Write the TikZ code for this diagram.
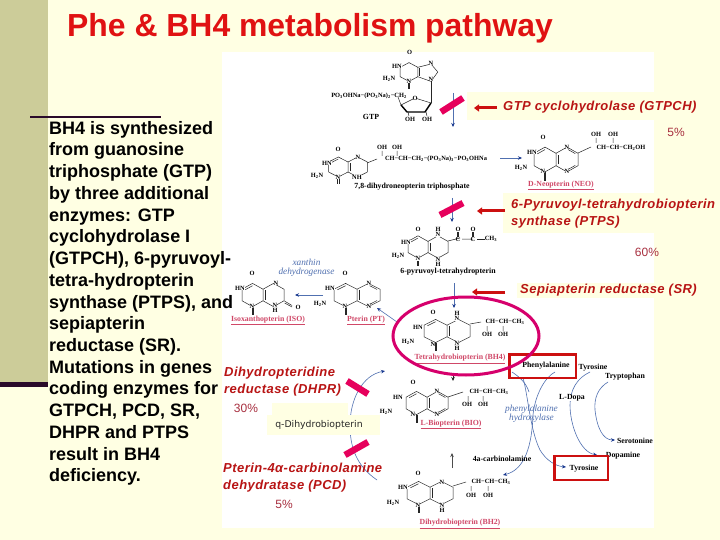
\documentclass[tikz,border=0pt]{standalone}
\usepackage{fontspec}
\setmainfont{Liberation Sans}
\newfontfamily\serifmol{Liberation Serif}
\newfontfamily\dejav{DejaVu Sans}
\newfontfamily\enzfont[LetterSpace=3.5]{Liberation Sans}
\usetikzlibrary{arrows.meta}
\definecolor{pagebg}{HTML}{FFFFE3}
\definecolor{sidebar}{HTML}{CCCC99}
\definecolor{darkbar}{HTML}{2A0A2A}
\definecolor{titlered}{HTML}{E01212}
\definecolor{enzred}{HTML}{B81414}
\definecolor{arrred}{HTML}{CC1010}
\definecolor{pct}{HTML}{A83040}
\definecolor{barpink}{HTML}{E6005C}
\definecolor{ringpink}{HTML}{D6006C}
\definecolor{molpink}{HTML}{D04868}
\definecolor{flowblue}{HTML}{5070B0}
\definecolor{tipblue}{HTML}{1A3A90}
\newcount\atomc
\tikzset{
  mol/.style={font=\serifmol\bfseries\fontsize{6.4}{5.4}\selectfont,inner sep=0pt,fill=white,text=black,align=center},
  molplain/.style={font=\serifmol\bfseries\fontsize{6.4}{6}\selectfont,inner sep=0pt,text=black},
  mollabel/.style={font=\serifmol\bfseries\fontsize{7.8}{8}\selectfont,inner sep=0pt},
  pinklabel/.style={mollabel,text=molpink},
  bond/.style={line width=0.5pt,black!85},
  enzyme/.style={font=\enzfont\bfseries\itshape\fontsize{13}{17}\selectfont,text=enzred,inner sep=0pt,anchor=west,align=left},
  percent/.style={font=\fontsize{12}{12}\selectfont,text=pct,inner sep=0pt},
  blueitalic/.style={font=\serifmol\itshape\fontsize{9.3}{8.7}\selectfont,text=flowblue,inner sep=0pt,align=center},
  redarrow/.style={line width=3pt,arrred,-{Triangle[length=5pt,width=7pt]}},
  pinkbar/.style={line width=6.5pt,barpink},
  flow/.style={line width=0.6pt,flowblue,-{Stealth[length=4pt,width=3.5pt,tipblue]}},
  flowline/.style={line width=0.6pt,flowblue},
  redbox/.style={draw=arrred,line width=2.6pt},
  palebox/.style={fill=pagebg,draw=none}
}
\def\atom(#1)#2{\global\advance\atomc by 1\relax\node[mol] (atom\the\atomc) at (#1) {#2};}
\def\atomp(#1)#2{\global\advance\atomc by 1\relax\node[molplain] (atom\the\atomc) at (#1) {#2};}
\newcommand{\low}[1]{\textsubscript{#1}}
% pterin skeleton: shared bond centred at (#1,#2), half side #3, half width #4, #5=1 aromatic right ring
\newcommand{\pterin}[5]{%
\begin{scope}[shift={(#1,#2)},x=#4pt,y=#3pt]
\draw[bond] (-1,-2)--(0,-1)--(0,1)--(-1,2)--(-2,1)--(-2,-1)--cycle;
\draw[bond] (0.2,-0.8)--(0.2,0.8);
\draw[bond] (-1,1.6)--(-1.7,0.9);
\draw[bond] (-1.06,-2)--(-1.06,-3.4) (-0.94,-2)--(-0.94,-3.4);
\draw[bond] (0,-1)--(1,-2)--(2,-1)--(2,1)--(1,2)--(0,1);
\ifnum#5=1
\draw[bond] (1.1,-1.6)--(1.75,-0.95) (1.75,0.95)--(1.1,1.6);
\fi
\end{scope}}
\begin{document}
\begin{tikzpicture}[x=1pt,y=-1pt]
\useasboundingbox (0,0) rectangle (720,540);
\fill[pagebg] (0,0) rectangle (720,540);
\fill[sidebar] (0,0) rectangle (48,382);
\fill[darkbar] (0,382) rectangle (48,386.5);
\fill[white] (222,52) rectangle (654,528);
\fill[darkbar] (30,116) rectangle (161,118.5);
\node[font=\bfseries\fontsize{31.9}{32}\selectfont,text=titlered,inner sep=0pt,anchor=west] (title) at (67,28) {Phe \& BH4 metabolism pathway};
% pale boxes behind the enzyme names
\fill[palebox] (467,92) rectangle (654,120);
\fill[palebox] (503,193) rectangle (654,233);
\fill[palebox] (517,283) rectangle (654,298);
% GTP
\begin{scope}[shift={(409,72)},x=8pt,y=4.7pt]
\draw[bond] (0,-2)--(1.1,-1)--(1.1,1)--(0,2)--(-1.1,1)--(-1.1,-1)--cycle;
\draw[bond] (1.25,-0.8)--(1.25,0.8);
\draw[bond] (-0.06,-2)--(-0.06,-3.6) (0.06,-2)--(0.06,-3.6);
\draw[bond] (1.1,-1)--(2.75,-2)--(3.6,0)--(2.75,1.7)--(1.1,1);
\end{scope}
\draw[bond] (431,79)--(431,103);
\draw[bond] (398,97)--(401,105);
\draw[bond] (401,105)--(415,98)--(431,103);
\draw[line width=1.4pt] (401,105)--(407,112)--(425,112)--(431,103);
\draw[bond] (408,112)--(409,116) (426,112)--(427,116);
\atom(409.5,52.5){O}
\atom(397,66){HN}
\atom(389,79){H\low{2}N}
\atom(409,81){N}
\atom(431,63){N}
\atom(431,79){N}
\atom(415,98){O}
\atomp(369,96){PO\low{3}OHNa−(PO\low{3}Na)\low{2}−CH\low{2}}
\atom(410,119){OH}
\atom(427,119){OH}
\node[mollabel] (gtp) at (371,117) {GTP};
% 7,8-dihydroneopterin triphosphate
\pterin{348}{167}{5}{9.7}{0}
\draw[bond] (367,163)--(377,159) (382,151)--(382,156) (397,151)--(397,156);
\atom(338,149){O}
\atom(327,163){HN}
\atom(317,176){H\low{2}N}
\atom(338,177){N}
\atom(358,157.5){N}
\atom(357,177){NH}
\atom(382,147){OH}
\atom(397,147){OH}
\atomp(436,159){CH−CH−CH\low{2}−(PO\low{3}Na)\low{3}−PO\low{3}OHNa}
\node[mollabel] (dhnp) at (412,187) {7,8-dihydroneopterin triphosphate};
% D-neopterin
\pterin{556}{159.5}{6.2}{11}{1}
\draw[bond] (578,153)--(591,147) (596,138)--(596,143) (613,138)--(613,143);
\atom(543,137){O}
\atom(532,152){HN}
\atom(521,168){H\low{2}N}
\atom(543,171){N}
\atom(567,147){N}
\atom(567,171){N}
\atom(596,134){OH}
\atom(613,134){OH}
\atomp(621,147.5){CH−CH−CH\low{2}OH}
\node[pinklabel] (neo) at (561,185.5) {\underline{D-Neopterin (NEO)}};
% flow from triphosphate to neopterin
\coordinate (tpEnd) at (500,158);
\coordinate (neoStart) at (522,158);
\draw[flow] (tpEnd)--(neoStart);
% 6-pyruvoyl-tetrahydropterin
\pterin{428}{247}{5.6}{10}{0}
\draw[bond] (448,241)--(460,238) (462,239)--(473,239);
\draw[bond] (457.4,232)--(457.4,237) (458.6,232)--(458.6,237) (472.4,232)--(472.4,237) (473.6,232)--(473.6,237);
\atom(418,229){O}
\atom(406,242){HN}
\atom(398,256){H\low{2}N}
\atom(418,258.5){N}
\atom(438,232){H\\N}
\atom(438,262){N\\H}
\atom(458,229){O}
\atom(473,229){O}
\atomp(458,239){C}
\atomp(473,239){C}
\atom(491,239){CH\low{3}}
\draw[bond] (477,239)--(485,239);
\node[mollabel] (pyr) at (448,271.5) {6-pyruvoyl-tetrahydropterin};
% isoxanthopterin
\pterin{263}{295}{5.8}{10.5}{0}
\draw[bond] (284.4,301)--(292,305.5) (284.6,303)--(292,307);
\atom(252,273){O}
\atom(240,288){HN}
\atom(252,306){N}
\atom(276,283){N}
\atom(298,307){O}
\atom(275,308){N\\H}
\node[pinklabel] (iso) at (268,320.5) {\underline{Isoxanthopterin (ISO)}};
\node[blueitalic] (xan) at (306.5,268) {xanthin\\dehydrogenase};
% pterin
\pterin{357}{295}{5.8}{11.5}{1}
\atom(345,273){O}
\atom(330,288){HN}
\atom(320,304){H\low{2}N}
\atom(345,306){N}
\atom(369,283){N}
\atom(369,306){N}
\node[pinklabel] (pt) at (366,320.5) {\underline{Pterin (PT)}};
\coordinate (ptSrc) at (397,322);
\coordinate (ptEnd) at (377,308);
\draw[flow] (ptSrc)--(ptEnd);
\coordinate (isoSrc) at (323,295);
\coordinate (isoEnd) at (295,295);
\draw[flow] (isoSrc)--(isoEnd);
% tetrahydrobiopterin
\pterin{447}{331}{5.8}{11.5}{0}
\draw[bond] (470,324)--(481,322) (487,326)--(487,331) (503,326)--(503,331);
\atom(433,312){O}
\atom(418,327){HN}
\atom(408,342){H\low{2}N}
\atom(433,344){N}
\atom(457,316){H\\N}
\atom(457,346){N\\H}
\atom(487,334){OH}
\atom(503,334){OH}
\atomp(505,322){CH−CH−CH\low{3}}
\node[pinklabel] (bh4) at (460,359) {\underline{Tetrahydrobiopterin (BH4)}};
\coordinate (pyrDown) at (454,283);
\coordinate (bh4Top) at (454,308);
\draw[flow] (pyrDown)--(bh4Top);
% L-biopterin
\pterin{427}{403}{5.8}{10.5}{1}
\draw[bond] (448,397)--(463,392) (468,396)--(468,401) (483,396)--(483,401);
\atom(413,382){O}
\atom(398,397){HN}
\atom(386,412){H\low{2}N}
\atom(413,414){N}
\atom(437,391){N}
\atom(437,414){N}
\atom(467,404){OH}
\atom(483,404){OH}
\atomp(489,392){CH−CH−CH\low{3}}
\node[pinklabel] (bio) at (451,424.5) {\underline{L-Biopterin (BIO)}};
% dihydrobiopterin
\pterin{430}{493}{5.8}{11.5}{0}
\draw[bond] (453,486)--(466,482) (471,486)--(471,491) (488,486)--(488,491);
\atom(418,473){O}
\atom(403,487){HN}
\atom(393,503){H\low{2}N}
\atom(418,505){N}
\atom(442,482){N}
\atom(442,508){N\\H}
\atom(471,495){OH}
\atom(488,495){OH}
\atomp(491,482){CH−CH−CH\low{3}}
\node[pinklabel] (bh2) at (460,524) {\underline{Dihydrobiopterin (BH2)}};
% arrows down the main column
\coordinate (a1s) at (453,93);
\coordinate (a1e) at (453,127);
\draw[flow] (a1s)--(a1e);
\coordinate (a2s) at (452,198);
\coordinate (a2e) at (452,222);
\draw[flow] (a2s)--(a2e);
\coordinate (a3s) at (452,468);
\coordinate (a3e) at (452,453);
\draw[-{Stealth[length=4pt,width=3.5pt]},line width=0.6pt,black!70] (a3s)--(a3e);
\coordinate (bh4down) at (453,376);
\coordinate (bioTop) at (453,381);
\draw[-{Stealth[length=4pt,width=3.5pt]},line width=0.6pt,black!85] (bh4down)--(bioTop);
% aromatic amino-acid side
\draw[flow] (523,378) .. controls (528,395) and (530,430) .. (540,450) .. controls (546,460) and (555,466) .. (566,467);
\draw[flow] (555,372) .. controls (545,377) and (535,395) .. (533,415) .. controls (532,445) and (525,470) .. (503,475);
\draw[flowline] (512,372) .. controls (518,376) and (526,382) .. (529,392);
\draw[flow] (590,372) .. controls (577,378) and (570,390) .. (570,405) .. controls (570,425) and (580,452) .. (597,455);
\draw[flow] (608,382) .. controls (598,388) and (594,398) .. (595,410) .. controls (597,428) and (603,440) .. (615,440);
\node[blueitalic] (hydrox) at (531.5,414) {phenylalanine\\hydroxylase};
\tikzset{aminolabel/.style={mollabel,text=black}}
\node[aminolabel,fill=white] (ldopa) at (572,398) {L-Dopa};
\node[aminolabel] (phe) at (546,366) {Phenylalanine};
\node[aminolabel] (tyr1) at (593,368) {Tyrosine};
\node[aminolabel] (trp) at (625,377) {Tryptophan};
\node[aminolabel] (ser) at (635,441) {Serotonine};
\node[aminolabel] (dop) at (623,456) {Dopamine};
\node[aminolabel] (tyr2) at (584,469) {Tyrosine};
\node[aminolabel] (carb) at (502,459) {4a-carbinolamine};
\draw[redbox] (509.5,354.5) rectangle (576,378);
\draw[redbox] (554.5,456) rectangle (608,480);
% left cycle
\draw[flow] (377,480) .. controls (355,465) and (350,445) .. (350,425) .. controls (350,400) and (362,375) .. (385,371);
\fill[palebox] (272,403) rectangle (348,415);
\fill[palebox] (267,415) rectangle (380,435);
\node[font=\dejav\fontsize{9.3}{10}\selectfont,inner sep=0pt,text=black!85] (qdh) at (319,425) {q-Dihydrobiopterin};
% pink ring around BH4
\draw[ringpink,line width=3pt] (466,336) ellipse [x radius=73,y radius=39];
% pink bars
\draw[pinkbar] (441,112)--(463,98);
\draw[pinkbar] (440,215)--(463,203);
\draw[pinkbar] (347,381)--(368,394);
\draw[pinkbar] (345,455)--(368,442);
% enzyme names and red arrows
\node[enzyme] (gtpch) at (503,107) {GTP cyclohydrolase (GTPCH)};
\node[enzyme] (ptps) at (511,214) {6-Pyruvoyl-tetrahydrobiopterin\\synthase (PTPS)};
\node[enzyme] (sr) at (520,290) {Sepiapterin reductase (SR)};
\node[enzyme] (dhpr) at (224,382) {Dihydropteridine\\reductase (DHPR)};
\node[enzyme] (pcd) at (223,478) {Pterin-4α-carbinolamine\\dehydratase (PCD)};
\coordinate (r1) at (474,108);
\coordinate (r2) at (477,211);
\coordinate (r3) at (472,292);
\draw[redarrow] (gtpch.west |- r1)+(-6,0) -- (r1);
\draw[redarrow] (ptps.west |- r2)+(-6,0) -- (r2);
\draw[redarrow] (sr.west |- r3)+(-15,0) -- (r3);
\node[percent] (p5a) at (676,132) {5\%};
\node[percent] (p60) at (647,252) {60\%};
\node[percent] (p30) at (246,408) {30\%};
\node[percent] (p5b) at (284,504) {5\%};
% body
\node[font=\bfseries\fontsize{18}{21.72}\selectfont,inner sep=0pt,anchor=north west,align=left,text=black] (body) at (49,121) {BH4 is synthesized\\from guanosine\\triphosphate (GTP)\\by three additional\\enzymes: GTP\\cyclohydrolase I\\(GTPCH), 6-pyruvoyl-\\tetra-hydropterin\\synthase (PTPS), and\\sepiapterin\\reductase (SR).\\Mutations in genes\\coding enzymes for\\GTPCH, PCD, SR,\\DHPR and PTPS\\result in BH4\\deficiency.};
\end{tikzpicture}
\end{document}
